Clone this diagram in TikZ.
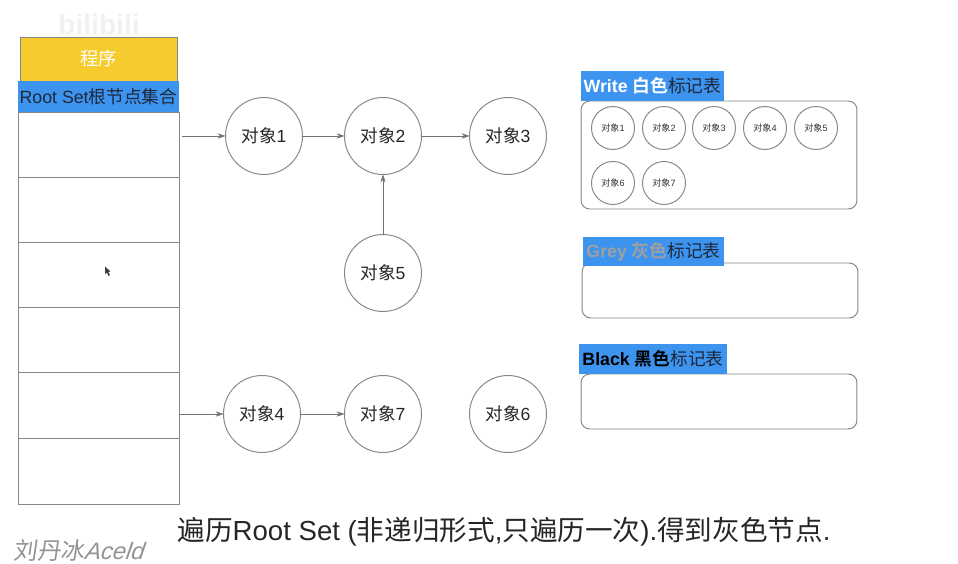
\documentclass[tikz,border=0pt]{standalone}
\usepackage{fontspec}
\setmainfont{Liberation Sans}
\newfontfamily\cjk{Noto Sans CJK SC}
\newfontfamily\cjkbold{Noto Sans CJK SC Bold}
\definecolor{Lineacolor}{RGB}{135,135,135}
\definecolor{Azulcolor}{RGB}{61,148,238}
\definecolor{Amarillocolor}{RGB}{246,203,46}
\definecolor{Tintacolor}{RGB}{30,40,60}
\usetikzlibrary{arrows.meta}

\begin{document}
\begin{tikzpicture}[
  x=0.02cm, y=-0.02cm,
  rowbox/.style={
    rectangle, draw=Lineacolor, fill=white, line width=0.55pt,
    minimum width=3.22cm, outer sep=0pt
  },
  %% objetos del grafo
  objnode/.style={
    circle, draw=Lineacolor, fill=white, line width=0.55pt,
    minimum size=1.54cm, inner sep=0pt, outer sep=0pt,
    font=\fontsize{10}{12}\selectfont, text=black!85
  },
  %% objetos pequenos de la tabla
  objsmall/.style={
    circle, draw=Lineacolor, fill=white, line width=0.55pt,
    minimum size=0.86cm, inner sep=0pt, outer sep=0pt,
    font=\fontsize{5.2}{6}\selectfont, text=black!80
  },
  panel/.style={
    rectangle, rounded corners=5pt, draw=Lineacolor, fill=white,
    line width=0.55pt, minimum width=5.52cm, outer sep=0pt
  },
  tag/.style={
    rectangle, fill=Azulcolor, inner sep=0pt, outer sep=0pt,
    minimum height=0.6cm, text=Tintacolor,
    font=\fontsize{10.1}{12}\selectfont
  },
  arr/.style={
    -{Stealth[length=4.5pt, width=3pt]}, line width=0.45pt, color=black!55
  }
]
\useasboundingbox (0,0) rectangle (958,564);

%% ── Programa y Root Set ────────────────────────────────────────────────────
\node[rectangle, draw=Lineacolor, fill=Amarillocolor, line width=0.55pt,
      minimum width=3.14cm, minimum height=0.88cm, outer sep=0pt,
      text=white, font=\fontsize{10.4}{12}\selectfont] (prog) at (98.5, 59)
  {\cjk 程序};
\node[rowbox, minimum height=1.30cm] (row1) at (98.5, 144.5) {};
\node[rowbox, minimum height=1.30cm] (row2) at (98.5, 209.5) {};
\node[rowbox, minimum height=1.30cm] (row3) at (98.5, 274.5) {};
\node[rowbox, minimum height=1.30cm] (row4) at (98.5, 339.5) {};
\node[rowbox, minimum height=1.32cm] (row5) at (98.5, 405) {};
\node[rowbox, minimum height=1.32cm] (row6) at (98.5, 471) {};
\node[rectangle, fill=Azulcolor, minimum width=3.22cm, minimum height=0.62cm,
      inner sep=0pt, outer sep=0pt, text=Tintacolor,
      font=\fontsize{10.1}{13}\selectfont] (rootset) at (98.5, 96.5)
  {Root Set{\cjk 根节点集合}};

%% ── Objetos ────────────────────────────────────────────────────────────────
\node[objnode] (obj1) at (264, 136) {{\cjk 对象}1};
\node[objnode] (obj2) at (383, 136) {{\cjk 对象}2};
\node[objnode] (obj3) at (508, 136) {{\cjk 对象}3};
\node[objnode] (obj5) at (383, 273) {{\cjk 对象}5};
\node[objnode] (obj4) at (262, 414) {{\cjk 对象}4};
\node[objnode] (obj7) at (383, 414) {{\cjk 对象}7};
\node[objnode] (obj6) at (508, 414) {{\cjk 对象}6};

%% ── Tabla blanca ───────────────────────────────────────────────────────────
\node[panel, minimum height=2.16cm] (white) at (719, 155) {};
\node[tag, minimum width=2.86cm] (whitetag) at (652.5, 86)
  {\textcolor{white}{\textbf{Write} {\cjkbold 白色}}{\cjk 标记表}};
\node[objsmall] (small1) at (613, 128) {{\cjk 对象}1};
\node[objsmall] (small2) at (664, 128) {{\cjk 对象}2};
\node[objsmall] (small3) at (714, 128) {{\cjk 对象}3};
\node[objsmall] (small4) at (765, 128) {{\cjk 对象}4};
\node[objsmall] (small5) at (816, 128) {{\cjk 对象}5};
\node[objsmall] (small6) at (613, 183) {{\cjk 对象}6};
\node[objsmall] (small7) at (664, 183) {{\cjk 对象}7};

%% ── Tabla gris ─────────────────────────────────────────────────────────────
\node[panel, minimum height=1.10cm] (grey) at (720, 290.5) {};
\node[tag, minimum width=2.82cm] (greytag) at (653.5, 251.5)
  {\textcolor{gray!75}{\textbf{Grey} {\cjkbold 灰色}}{\cjk 标记表}};

%% ── Tabla negra ────────────────────────────────────────────────────────────
\node[panel, minimum height=1.10cm] (black) at (719, 401.5) {};
\node[tag, minimum width=2.96cm] (blacktag) at (653, 359)
  {\textcolor{black}{\textbf{Black} {\cjkbold 黑色}}{\cjk 标记表}};

%% ── Textos sueltos ─────────────────────────────────────────────────────────
\node[font=\fontsize{15.7}{18}\selectfont, text=black!85] (caption) at (504, 532)
  {{\cjk 遍历}Root Set ({\cjk 非递归形式},{\cjk 只遍历一次}).{\cjk 得到灰色节点}.};
\node[font=\fontsize{13.5}{15}\selectfont\itshape, text=gray!85, xslant=0.15,
      inner sep=0pt] (firma) at (80, 551) {{\cjk 刘丹冰}Aceld};
\node[font=\fontsize{16}{18}\selectfont\bfseries, text=gray!60, opacity=0.18]
  (marca) at (99, 24) {bilibili};

%% cursor
\fill[black!75] (105, 266.5) -- (105, 274) -- (106.8, 272.6) -- (108.6, 276)
  -- (110, 275) -- (108.3, 272) -- (110.5, 271.5) -- cycle;

%% ────────────────── FLECHAS ────────────────────────────────────────────────
\draw[arr, shorten <=2pt] (obj1.west -| row1.east) -- (obj1.west);
\draw[arr] (obj1) -- (obj2);
\draw[arr] (obj2) -- (obj3);
\draw[arr] (obj5) -- (obj2);
\draw[arr] (obj4.west -| row5.east) -- (obj4.west);
\draw[arr] (obj4) -- (obj7);

\end{tikzpicture}
\end{document}
